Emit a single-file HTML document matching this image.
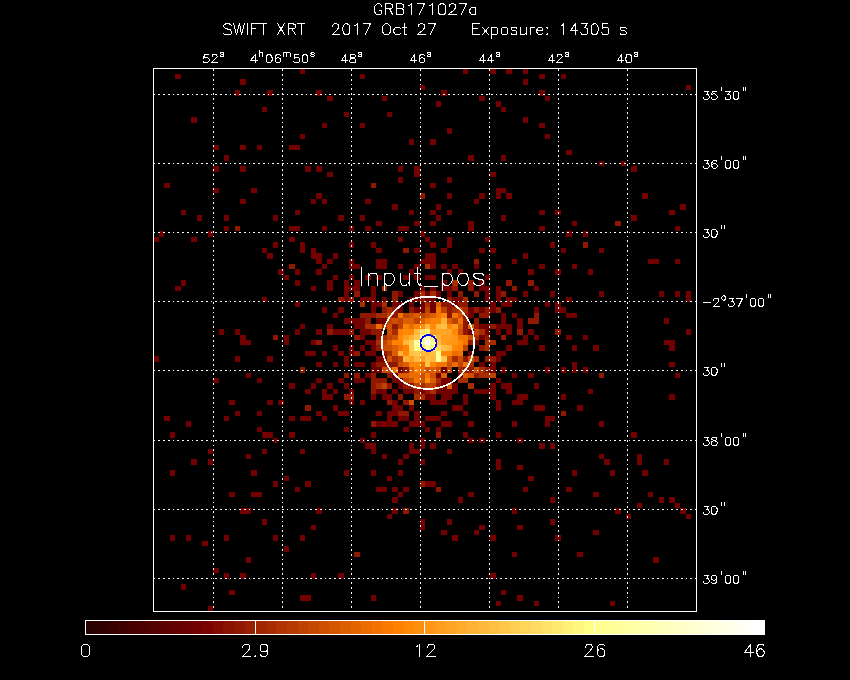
<!DOCTYPE html>
<html lang="en">
<head>
<meta charset="utf-8">
<title>GRB171027a SWIFT XRT</title>
<style>
html,body{margin:0;padding:0;background:#000;}
body{width:850px;height:680px;overflow:hidden;position:relative;font-family:"Liberation Sans",sans-serif;}
</style>
</head>
<body>
<svg width="850" height="680" viewBox="0 0 850 680" style="display:block;position:absolute;left:0;top:0">
<rect x="0" y="0" width="850" height="680" fill="#000"/>
<g shape-rendering="crispEdges">
<path fill="#730000" d="M300 69H305V74H300ZM463 69H468V74H463ZM490 69H496V74H490ZM506 69H512V74H506ZM523 69H528V74H523ZM175 74H181V79H175ZM360 74H365V79H360ZM539 74H545V79H539ZM561 74H566V79H561ZM240 79H246V85H240ZM523 79H528V85H523ZM420 85H425V90H420ZM686 85H691V90H686ZM235 90H240V96H235ZM267 90H273V96H267ZM316 90H322V96H316ZM441 90H447V96H441ZM539 90H545V96H539ZM327 96H333V101H327ZM382 96H387V101H382ZM479 96H485V101H479ZM545 96H550V101H545ZM436 101H441V107H436ZM496 101H501V107H496ZM262 107H267V112H262ZM501 107H506V112H501ZM344 112H349V117H344ZM387 112H392V117H387ZM191 117H197V123H191ZM523 117H528V123H523ZM322 123H327V128H322ZM360 123H365V128H360ZM539 123H545V128H539ZM447 128H452V134H447ZM300 134H305V139H300ZM545 134H550V139H545ZM409 139H414V145H409ZM430 139H436V145H430ZM213 145H219V150H213ZM240 145H246V150H240ZM257 145H262V150H257ZM289 145H300V150H289ZM566 150H572V155H566ZM224 155H229V161H224ZM468 155H474V161H468ZM501 155H506V161H501ZM599 161H604V166H599ZM621 161H626V166H621ZM213 166H219V172H213ZM240 166H246V172H240ZM305 166H311V172H305ZM316 166H322V172H316ZM398 166H403V172H398ZM414 166H420V172H414ZM631 166H637V172H631ZM327 172H333V177H327ZM414 172H420V177H414ZM490 172H496V177H490ZM398 177H403V183H398ZM447 177H452V183H447ZM164 183H170V188H164ZM430 183H436V188H430ZM213 188H219V193H213ZM251 188H257V193H251ZM496 188H506V193H496ZM316 193H322V199H316ZM447 193H452V199H447ZM479 193H485V199H479ZM496 193H501V199H496ZM506 193H512V199H506ZM642 193H648V199H642ZM240 199H246V204H240ZM311 199H316V204H311ZM322 199H327V204H322ZM365 199H371V204H365ZM474 199H479V204H474ZM392 204H398V210H392ZM436 204H441V210H436ZM680 204H686V210H680ZM181 210H186V215H181ZM295 210H300V215H295ZM409 210H414V215H409ZM430 210H436V215H430ZM447 210H452V215H447ZM539 210H545V215H539ZM555 210H561V215H555ZM669 210H675V215H669ZM197 215H202V221H197ZM224 215H229V221H224ZM273 215H278V221H273ZM338 215H344V221H338ZM360 215H365V221H360ZM436 215H441V221H436ZM501 215H506V221H501ZM631 215H637V221H631ZM376 221H382V226H376ZM414 221H420V226H414ZM430 221H436V226H430ZM468 221H474V226H468ZM572 221H577V226H572ZM224 226H229V231H224ZM289 226H300V231H289ZM322 226H327V231H322ZM349 226H354V231H349ZM365 226H371V231H365ZM398 226H409V231H398ZM468 226H474V231H468ZM539 226H545V231H539ZM675 226H680V231H675ZM159 231H164V237H159ZM208 231H213V237H208ZM420 231H425V237H420ZM566 231H572V237H566ZM583 231H588V237H583ZM153 237H159V242H153ZM191 237H197V242H191ZM289 237H295V242H289ZM398 237H403V242H398ZM425 237H430V242H425ZM447 237H452V242H447ZM485 237H490V242H485ZM273 242H278V248H273ZM300 242H305V248H300ZM349 242H354V248H349ZM371 242H376V248H371ZM430 242H436V248H430ZM447 242H452V248H447ZM550 242H555V248H550ZM262 248H267V253H262ZM300 248H305V253H300ZM311 248H316V253H311ZM376 248H382V253H376ZM414 248H420V253H414ZM441 248H447V253H441ZM479 248H485V253H479ZM490 248H496V253H490ZM561 248H566V253H561ZM599 248H604V253H599ZM267 253H273V259H267ZM311 253H322V259H311ZM333 253H338V259H333ZM425 253H436V259H425ZM523 253H528V259H523ZM316 259H322V264H316ZM327 259H333V264H327ZM349 259H354V264H349ZM376 259H387V264H376ZM420 259H436V264H420ZM512 259H517V264H512ZM648 259H659V264H648ZM675 259H680V264H675ZM322 264H327V269H322ZM349 264H360V269H349ZM376 264H387V269H376ZM398 264H403V269H398ZM414 264H420V269H414ZM430 264H436V269H430ZM441 264H447V269H441ZM452 264H458V269H452ZM474 264H479V269H474ZM496 264H501V269H496ZM539 264H545V269H539ZM572 264H577V269H572ZM278 269H284V275H278ZM295 269H300V275H295ZM316 269H322V275H316ZM409 269H414V275H409ZM447 269H452V275H447ZM458 269H463V275H458ZM528 269H534V275H528ZM555 269H561V275H555ZM588 269H593V275H588ZM284 275H289V280H284ZM333 275H338V280H333ZM349 275H354V280H349ZM365 275H371V280H365ZM376 275H382V280H376ZM403 275H409V280H403ZM414 275H420V280H414ZM425 275H436V280H425ZM485 275H490V280H485ZM181 280H186V286H181ZM295 280H300V286H295ZM327 280H333V286H327ZM344 280H349V286H344ZM354 280H360V286H354ZM441 280H447V286H441ZM479 280H485V286H479ZM175 286H181V291H175ZM311 286H316V291H311ZM327 286H333V291H327ZM344 286H360V291H344ZM371 286H376V291H371ZM420 286H425V291H420ZM430 286H436V291H430ZM441 286H452V291H441ZM479 286H490V291H479ZM496 286H501V291H496ZM534 286H539V291H534ZM344 291H349V297H344ZM371 291H376V297H371ZM398 291H403V297H398ZM414 291H420V297H414ZM425 291H430V297H425ZM436 291H441V297H436ZM447 291H452V297H447ZM485 291H490V297H485ZM496 291H501V297H496ZM523 291H528V297H523ZM550 291H555V297H550ZM599 291H604V297H599ZM659 291H664V297H659ZM675 291H680V297H675ZM686 291H691V297H686ZM262 297H267V302H262ZM344 297H349V302H344ZM360 297H376V302H360ZM382 297H387V302H382ZM409 297H420V302H409ZM425 297H436V302H425ZM452 297H463V302H452ZM485 297H490V302H485ZM496 297H501V302H496ZM506 297H517V302H506ZM566 297H572V302H566ZM686 297H691V302H686ZM295 302H300V307H295ZM371 302H382V307H371ZM392 302H403V307H392ZM409 302H414V307H409ZM420 302H425V307H420ZM430 302H436V307H430ZM452 302H458V307H452ZM490 302H496V307H490ZM501 302H512V307H501ZM545 302H550V307H545ZM555 302H561V307H555ZM322 307H327V313H322ZM338 307H344V313H338ZM371 307H376V313H371ZM398 307H403V313H398ZM414 307H425V313H414ZM430 307H436V313H430ZM468 307H474V313H468ZM479 307H485V313H479ZM490 307H496V313H490ZM534 307H539V313H534ZM555 307H566V313H555ZM333 313H338V318H333ZM468 313H474V318H468ZM501 313H506V318H501ZM512 313H517V318H512ZM566 313H577V318H566ZM344 318H365V324H344ZM376 318H387V324H376ZM501 318H506V324H501ZM517 318H523V324H517ZM664 318H669V324H664ZM300 324H305V329H300ZM327 324H333V329H327ZM354 324H365V329H354ZM479 324H490V329H479ZM496 324H512V329H496ZM517 324H523V329H517ZM219 329H224V335H219ZM235 329H240V335H235ZM295 329H300V335H295ZM316 329H322V335H316ZM333 329H349V335H333ZM360 329H371V335H360ZM468 329H474V335H468ZM485 329H490V335H485ZM496 329H501V335H496ZM506 329H512V335H506ZM528 329H534V335H528ZM686 329H691V335H686ZM240 335H246V340H240ZM284 335H289V340H284ZM360 335H365V340H360ZM479 335H485V340H479ZM523 335H528V340H523ZM534 335H539V340H534ZM566 335H572V340H566ZM583 335H588V340H583ZM240 340H251V345H240ZM284 340H289V345H284ZM311 340H316V345H311ZM365 340H376V345H365ZM474 340H479V345H474ZM517 340H528V345H517ZM664 340H675V345H664ZM333 345H338V351H333ZM349 345H354V351H349ZM360 345H365V351H360ZM371 345H376V351H371ZM506 345H512V351H506ZM539 345H545V351H539ZM572 345H577V351H572ZM593 345H599V351H593ZM669 345H675V351H669ZM305 351H316V356H305ZM322 351H327V356H322ZM338 351H344V356H338ZM349 351H354V356H349ZM365 351H376V356H365ZM468 351H474V356H468ZM496 351H506V356H496ZM153 356H159V362H153ZM235 356H240V362H235ZM267 356H273V362H267ZM344 356H349V362H344ZM376 356H387V362H376ZM496 356H501V362H496ZM316 362H322V367H316ZM333 362H338V367H333ZM344 362H349V367H344ZM354 362H365V367H354ZM371 362H376V367H371ZM479 362H485V367H479ZM490 362H496V367H490ZM572 362H577V367H572ZM669 362H675V367H669ZM371 367H382V373H371ZM398 367H403V373H398ZM441 367H447V373H441ZM490 367H496V373H490ZM501 367H506V373H501ZM545 367H550V373H545ZM561 367H566V373H561ZM572 367H577V373H572ZM583 367H588V373H583ZM246 373H251V378H246ZM365 373H371V378H365ZM392 373H398V378H392ZM436 373H441V378H436ZM458 373H463V378H458ZM512 373H517V378H512ZM528 373H534V378H528ZM675 373H680V378H675ZM213 378H219V383H213ZM257 378H262V383H257ZM316 378H322V383H316ZM338 378H344V383H338ZM354 378H365V383H354ZM392 378H403V383H392ZM441 378H452V383H441ZM496 378H501V383H496ZM289 383H295V389H289ZM311 383H316V389H311ZM327 383H333V389H327ZM344 383H349V389H344ZM398 383H403V389H398ZM441 383H447V389H441ZM452 383H458V389H452ZM490 383H496V389H490ZM501 383H512V389H501ZM534 383H539V389H534ZM305 389H311V394H305ZM322 389H327V394H322ZM333 389H338V394H333ZM349 389H354V394H349ZM376 389H387V394H376ZM392 389H398V394H392ZM403 389H414V394H403ZM420 389H425V394H420ZM436 389H458V394H436ZM474 389H496V394H474ZM506 389H512V394H506ZM588 389H593V394H588ZM322 394H333V400H322ZM371 394H376V400H371ZM382 394H392V400H382ZM425 394H436V400H425ZM441 394H452V400H441ZM463 394H468V400H463ZM490 394H496V400H490ZM517 394H528V400H517ZM561 394H566V400H561ZM669 394H675V400H669ZM229 400H235V405H229ZM267 400H273V405H267ZM278 400H284V405H278ZM349 400H354V405H349ZM360 400H365V405H360ZM392 400H398V405H392ZM430 400H447V405H430ZM463 400H468V405H463ZM496 400H501V405H496ZM512 400H523V405H512ZM333 405H338V411H333ZM392 405H403V411H392ZM409 405H414V411H409ZM452 405H463V411H452ZM496 405H501V411H496ZM534 405H545V411H534ZM577 405H583V411H577ZM235 411H240V416H235ZM257 411H262V416H257ZM316 411H322V416H316ZM338 411H349V416H338ZM376 411H382V416H376ZM387 411H398V416H387ZM414 411H420V416H414ZM441 411H447V416H441ZM463 411H468V416H463ZM164 416H170V421H164ZM224 416H229V421H224ZM289 416H295V421H289ZM300 416H311V421H300ZM322 416H327V421H322ZM387 416H392V421H387ZM398 416H409V421H398ZM414 416H420V421H414ZM425 416H441V421H425ZM545 416H555V421H545ZM186 421H191V427H186ZM376 421H398V427H376ZM409 421H425V427H409ZM441 421H452V427H441ZM468 421H474V427H468ZM512 421H517V427H512ZM545 421H550V427H545ZM599 421H604V427H599ZM257 427H262V432H257ZM344 427H349V432H344ZM403 427H409V432H403ZM425 427H430V432H425ZM436 427H441V432H436ZM170 432H175V438H170ZM262 432H273V438H262ZM289 432H295V438H289ZM371 432H376V438H371ZM463 432H468V438H463ZM496 432H501V438H496ZM631 432H637V438H631ZM273 438H278V443H273ZM360 438H365V443H360ZM420 438H425V443H420ZM468 438H474V443H468ZM479 438H485V443H479ZM517 438H523V443H517ZM365 443H376V449H365ZM409 443H414V449H409ZM420 443H425V449H420ZM430 443H436V449H430ZM539 443H545V449H539ZM550 443H555V449H550ZM208 449H213V454H208ZM262 449H267V454H262ZM300 449H305V454H300ZM371 449H376V454H371ZM409 449H420V454H409ZM447 449H452V454H447ZM246 454H251V459H246ZM382 454H387V459H382ZM403 454H409V459H403ZM599 454H604V459H599ZM637 454H642V459H637ZM191 459H197V465H191ZM208 459H213V465H208ZM398 459H403V465H398ZM420 459H425V465H420ZM496 459H501V465H496ZM604 459H610V465H604ZM637 459H642V465H637ZM664 459H669V465H664ZM496 465H501V470H496ZM517 465H523V470H517ZM170 470H175V476H170ZM251 470H257V476H251ZM344 470H349V476H344ZM371 470H376V476H371ZM398 470H403V476H398ZM572 470H577V476H572ZM610 470H615V476H610ZM642 470H648V476H642ZM284 476H289V481H284ZM387 476H392V481H387ZM528 476H534V481H528ZM273 481H278V487H273ZM305 481H311V487H305ZM425 481H436V487H425ZM295 487H300V492H295ZM376 487H387V492H376ZM392 487H398V492H392ZM403 487H409V492H403ZM523 487H528V492H523ZM566 487H572V492H566ZM229 492H235V497H229ZM251 492H262V497H251ZM398 492H403V497H398ZM468 492H474V497H468ZM593 492H599V497H593ZM648 492H653V497H648ZM392 497H398V503H392ZM458 497H463V503H458ZM550 497H555V503H550ZM659 497H664V503H659ZM669 497H675V503H669ZM637 503H642V508H637ZM675 503H680V508H675ZM240 508H251V514H240ZM316 508H322V514H316ZM392 508H398V514H392ZM512 508H517V514H512ZM615 508H621V514H615ZM680 508H686V514H680ZM387 514H392V519H387ZM626 514H631V519H626ZM686 514H691V519H686ZM262 519H267V525H262ZM420 519H425V525H420ZM447 519H452V525H447ZM550 519H555V525H550ZM311 525H316V530H311ZM420 525H425V530H420ZM479 525H485V530H479ZM517 525H523V530H517ZM441 530H447V535H441ZM474 530H479V535H474ZM593 530H599V535H593ZM170 535H175V541H170ZM186 535H191V541H186ZM224 535H229V541H224ZM273 535H278V541H273ZM300 535H305V541H300ZM452 535H458V541H452ZM490 535H496V541H490ZM555 535H561V541H555ZM202 541H208V546H202ZM284 546H289V552H284ZM512 552H517V557H512ZM577 552H583V557H577ZM246 557H251V563H246ZM653 557H659V563H653ZM213 568H219V573H213ZM224 573H229V579H224ZM240 573H246V579H240ZM311 573H316V579H311ZM338 573H344V579H338ZM490 573H496V579H490ZM181 584H186V590H181ZM229 590H235V595H229ZM501 590H506V595H501ZM300 595H311V601H300ZM371 595H376V601H371ZM517 595H523V601H517ZM496 601H501V606H496ZM534 601H539V606H534ZM610 601H615V606H610ZM208 606H213V612H208Z"/>
<path fill="#911800" d="M371 183H376V188H371ZM420 193H425V199H420ZM615 221H621V226H615ZM235 226H240V231H235ZM583 242H588V248H583ZM403 248H409V253H403ZM474 259H479V264H474ZM289 264H295V269H289ZM468 280H474V286H468ZM506 280H512V286H506ZM528 280H534V286H528ZM452 286H458V291H452ZM468 286H474V291H468ZM512 286H517V291H512ZM354 291H360V297H354ZM392 291H398V297H392ZM458 291H463V297H458ZM474 291H479V297H474ZM501 291H506V297H501ZM338 297H344V302H338ZM349 297H354V302H349ZM392 297H398V302H392ZM420 297H425V302H420ZM447 297H452V302H447ZM441 302H452V307H441ZM458 302H468V307H458ZM382 307H387V313H382ZM392 307H398V313H392ZM409 307H414V313H409ZM447 307H452V313H447ZM474 307H479V313H474ZM485 307H490V313H485ZM496 307H501V313H496ZM360 313H376V318H360ZM392 313H398V318H392ZM447 313H452V318H447ZM463 313H468V318H463ZM479 313H490V318H479ZM534 313H539V318H534ZM365 318H371V324H365ZM463 318H468V324H463ZM474 318H479V324H474ZM528 318H539V324H528ZM392 324H398V329H392ZM463 324H468V329H463ZM474 324H479V329H474ZM490 324H496V329H490ZM327 329H333V335H327ZM349 329H354V335H349ZM371 329H382V335H371ZM463 329H468V335H463ZM517 329H523V335H517ZM555 329H561V335H555ZM273 335H278V340H273ZM354 335H360V340H354ZM376 335H382V340H376ZM485 335H490V340H485ZM501 335H506V340H501ZM316 340H322V345H316ZM468 340H474V345H468ZM376 345H382V351H376ZM479 345H485V351H479ZM354 351H360V356H354ZM382 351H387V356H382ZM463 356H468V362H463ZM485 356H496V362H485ZM376 362H398V367H376ZM300 367H305V373H300ZM403 367H409V373H403ZM463 367H474V373H463ZM485 367H490V373H485ZM344 373H349V378H344ZM354 373H360V378H354ZM371 373H376V378H371ZM387 373H392V378H387ZM474 373H479V378H474ZM599 373H604V378H599ZM371 378H387V383H371ZM371 383H376V389H371ZM387 383H392V389H387ZM403 383H414V389H403ZM436 383H441V389H436ZM371 389H376V394H371ZM414 389H420V394H414ZM425 389H430V394H425ZM344 394H354V400H344ZM398 394H403V400H398ZM387 400H392V405H387ZM403 400H409V405H403ZM305 405H311V411H305ZM398 411H409V416H398ZM561 411H566V416H561ZM371 421H376V427H371ZM436 432H441V438H436ZM420 481H425V487H420ZM436 487H441V492H436ZM403 508H409V514H403ZM354 552H360V557H354Z"/>
<path fill="#a72d00" d="M425 264H430V269H425ZM452 280H458V286H452ZM382 286H387V291H382ZM420 291H425V297H420ZM430 291H436V297H430ZM463 297H468V302H463ZM360 302H365V307H360ZM382 302H387V307H382ZM425 302H430V307H425ZM387 307H392V313H387ZM452 307H458V313H452ZM463 307H468V313H463ZM376 313H387V318H376ZM365 324H376V329H365ZM382 324H387V329H382ZM392 329H398V335H392ZM479 329H485V335H479ZM382 335H387V340H382ZM474 335H479V340H474ZM376 340H382V345H376ZM485 340H496V345H485ZM485 345H490V351H485ZM387 351H392V356H387ZM392 356H398V362H392ZM452 356H458V362H452ZM474 356H479V362H474ZM468 362H474V367H468ZM458 367H463V373H458ZM479 367H485V373H479ZM479 373H490V378H479ZM436 378H441V383H436ZM458 378H468V383H458ZM376 383H382V389H376ZM420 383H425V389H420ZM468 383H474V389H468ZM430 389H436V394H430ZM414 394H425V400H414Z"/>
<path fill="#dc5e00" d="M436 302H441V307H436ZM414 313H420V318H414ZM430 313H436V318H430ZM403 318H414V324H403ZM420 318H425V324H420ZM447 318H452V324H447ZM458 324H463V329H458ZM468 324H474V329H468ZM387 340H392V345H387ZM392 345H398V351H392ZM392 351H398V356H392ZM447 356H452V362H447ZM403 362H409V367H403ZM409 367H414V373H409ZM430 367H436V373H430ZM398 373H409V378H398ZM441 373H447V378H441ZM463 373H468V378H463ZM430 378H436V383H430ZM447 383H452V389H447Z"/>
<path fill="#be4200" d="M425 307H430V313H425ZM441 307H447V313H441ZM458 307H463V313H458ZM387 313H392V318H387ZM403 313H409V318H403ZM420 313H425V318H420ZM387 318H392V324H387ZM398 318H403V324H398ZM414 318H420V324H414ZM452 318H458V324H452ZM398 324H403V329H398ZM474 329H479V335H474ZM387 335H392V340H387ZM382 340H387V345H382ZM463 345H468V351H463ZM398 356H403V362H398ZM458 362H463V367H458ZM387 367H392V373H387ZM447 367H452V373H447ZM490 373H496V378H490ZM403 378H409V383H403ZM382 383H387V389H382ZM414 383H420V389H414ZM425 383H436V389H425Z"/>
<path fill="#f27300" d="M436 307H441V313H436ZM398 313H403V318H398ZM436 313H441V318H436ZM452 313H458V318H452ZM425 318H430V324H425ZM458 318H463V324H458ZM458 335H468V340H458ZM463 340H468V345H463ZM398 345H403V351H398ZM458 351H463V356H458ZM436 362H447V367H436ZM463 362H468V367H463ZM392 367H398V373H392ZM425 373H430V378H425ZM414 378H420V383H414Z"/>
<path fill="#cd5000" d="M409 313H414V318H409ZM425 313H430V318H425ZM458 313H463V318H458ZM392 318H398V324H392ZM387 324H392V329H387ZM387 329H392V335H387ZM458 329H463V335H458ZM392 335H398V340H392ZM468 335H474V340H468ZM382 345H392V351H382ZM387 356H392V362H387ZM458 356H463V362H458ZM468 356H474V362H468ZM398 362H403V367H398ZM447 362H452V367H447ZM382 367H387V373H382ZM425 367H430V373H425ZM436 367H441V373H436ZM474 367H479V373H474ZM420 373H425V378H420ZM430 373H436V378H430ZM468 373H474V378H468ZM409 378H414V383H409ZM420 378H425V383H420ZM409 400H414V405H409Z"/>
<path fill="#ff8807" d="M441 313H447V318H441ZM420 324H425V329H420ZM430 324H436V329H430ZM447 324H452V329H447ZM403 329H414V335H403ZM452 329H458V335H452ZM398 335H403V340H398ZM458 340H463V345H458ZM452 345H458V351H452ZM403 351H409V356H403ZM441 351H452V356H441ZM409 362H420V367H409ZM430 362H436V367H430ZM425 378H430V383H425Z"/>
<path fill="#ff8100" d="M430 318H441V324H430ZM403 324H409V329H403ZM414 324H420V329H414ZM398 329H403V335H398ZM392 340H403V345H392ZM403 345H409V351H403ZM458 345H463V351H458ZM414 367H420V373H414Z"/>
<path fill="#ffb234" d="M441 318H447V324H441ZM409 335H414V340H409ZM436 335H441V340H436ZM447 345H452V351H447ZM398 351H403V356H398ZM425 351H430V356H425ZM403 356H409V362H403Z"/>
<path fill="#eb6c00" d="M376 324H382V329H376ZM409 324H414V329H409ZM452 351H458V356H452ZM420 362H425V367H420ZM452 362H458V367H452ZM420 367H425V373H420ZM409 373H420V378H409Z"/>
<path fill="#ffb93c" d="M425 324H430V329H425ZM436 324H441V329H436ZM414 329H420V335H414ZM403 340H409V345H403ZM436 340H441V345H436ZM420 351H425V356H420ZM414 356H420V362H414ZM430 356H436V362H430Z"/>
<path fill="#ffc043" d="M441 324H447V329H441ZM441 345H447V351H441ZM409 351H414V356H409ZM430 351H436V356H430ZM425 356H430V362H425ZM425 362H430V367H425Z"/>
<path fill="#ff9d1e" d="M452 324H458V329H452ZM430 329H436V335H430ZM403 335H409V340H403ZM441 335H452V340H441ZM441 340H447V345H441ZM409 356H414V362H409ZM420 356H425V362H420Z"/>
<path fill="#ffe369" d="M420 329H425V335H420ZM420 345H425V351H420Z"/>
<path fill="#fff178" d="M425 329H430V335H425ZM430 335H436V340H430ZM430 345H436V351H430Z"/>
<path fill="#ffa425" d="M436 329H452V335H436Z"/>
<path fill="#ffc74b" d="M414 335H420V340H414ZM414 351H420V356H414ZM441 356H447V362H441Z"/>
<path fill="#ffff8e" d="M420 335H425V340H420ZM420 340H425V345H420ZM436 351H441V356H436Z"/>
<path fill="#ffffca" d="M425 335H430V340H425Z"/>
<path fill="#ff9616" d="M452 335H458V340H452ZM447 340H458V345H447Z"/>
<path fill="#ffce52" d="M409 340H414V345H409ZM409 345H414V351H409Z"/>
<path fill="#ffffac" d="M414 340H420V345H414ZM425 345H430V351H425Z"/>
<path fill="#ffffff" d="M425 340H430V345H425Z"/>
<path fill="#ffff9d" d="M430 340H436V345H430ZM436 356H441V362H436Z"/>
<path fill="#ffff87" d="M414 345H420V351H414Z"/>
<path fill="#ffd55a" d="M436 345H441V351H436Z"/>
</g>
<g stroke="#fff" stroke-width="1" fill="none" shape-rendering="crispEdges">
<path d="M213.5 69V611" stroke-dasharray="2 3 2 3 2 3 1 3" stroke-dashoffset="0"/>
<path d="M282.5 69V611" stroke-dasharray="2 3 2 3 2 3 1 3" stroke-dashoffset="0"/>
<path d="M351.5 69V611" stroke-dasharray="2 3 2 3 2 3 1 3" stroke-dashoffset="0"/>
<path d="M420.5 69V611" stroke-dasharray="2 3 2 3 2 3 1 3" stroke-dashoffset="0"/>
<path d="M489.5 69V611" stroke-dasharray="2 3 2 3 2 3 1 3" stroke-dashoffset="0"/>
<path d="M558.5 69V611" stroke-dasharray="2 3 2 3 2 3 1 3" stroke-dashoffset="0"/>
<path d="M627.5 69V611" stroke-dasharray="2 3 2 3 2 3 1 3" stroke-dashoffset="0"/>
<path d="M154 94.5H696" stroke-dasharray="2 3 2 3 2 3 1 3" stroke-dashoffset="-4"/>
<path d="M154 163.5H696" stroke-dasharray="2 3 2 3 2 3 1 3" stroke-dashoffset="-4"/>
<path d="M154 232.5H696" stroke-dasharray="2 3 2 3 2 3 1 3" stroke-dashoffset="-4"/>
<path d="M154 301.5H696" stroke-dasharray="2 3 2 3 2 3 1 3" stroke-dashoffset="-4"/>
<path d="M154 370.5H696" stroke-dasharray="2 3 2 3 2 3 1 3" stroke-dashoffset="-4"/>
<path d="M154 440.5H696" stroke-dasharray="2 3 2 3 2 3 1 3" stroke-dashoffset="-4"/>
<path d="M154 509.5H696" stroke-dasharray="2 3 2 3 2 3 1 3" stroke-dashoffset="-4"/>
<path d="M154 578.5H696" stroke-dasharray="2 3 2 3 2 3 1 3" stroke-dashoffset="-4"/>
<rect x="153.5" y="68.5" width="543" height="543"/>
</g>
<g fill="none" shape-rendering="crispEdges">
<circle cx="428" cy="342.8" r="46.1" stroke="#fff" stroke-width="1.7"/>
<circle cx="428.5" cy="343" r="8.05" stroke="#0000ff" stroke-width="1.8"/>
</g>
<g shape-rendering="crispEdges">
<rect x="85" y="620" width="11" height="15" fill="#280000"/>
<rect x="96" y="620" width="11" height="15" fill="#2f0000"/>
<rect x="107" y="620" width="10" height="15" fill="#370000"/>
<rect x="117" y="620" width="11" height="15" fill="#3e0000"/>
<rect x="128" y="620" width="10" height="15" fill="#460000"/>
<rect x="138" y="620" width="11" height="15" fill="#4d0000"/>
<rect x="149" y="620" width="11" height="15" fill="#550000"/>
<rect x="160" y="620" width="10" height="15" fill="#5c0000"/>
<rect x="170" y="620" width="11" height="15" fill="#640000"/>
<rect x="181" y="620" width="11" height="15" fill="#6b0000"/>
<rect x="192" y="620" width="10" height="15" fill="#730000"/>
<rect x="202" y="620" width="11" height="15" fill="#7a0300"/>
<rect x="213" y="620" width="10" height="15" fill="#820a00"/>
<rect x="223" y="620" width="11" height="15" fill="#891100"/>
<rect x="234" y="620" width="11" height="15" fill="#911800"/>
<rect x="245" y="620" width="10" height="15" fill="#981f00"/>
<rect x="255" y="620" width="11" height="15" fill="#a02600"/>
<rect x="266" y="620" width="10" height="15" fill="#a72d00"/>
<rect x="276" y="620" width="11" height="15" fill="#af3400"/>
<rect x="287" y="620" width="11" height="15" fill="#b63b00"/>
<rect x="298" y="620" width="10" height="15" fill="#be4200"/>
<rect x="308" y="620" width="11" height="15" fill="#c54900"/>
<rect x="319" y="620" width="10" height="15" fill="#cd5000"/>
<rect x="329" y="620" width="11" height="15" fill="#d45700"/>
<rect x="340" y="620" width="11" height="15" fill="#dc5e00"/>
<rect x="351" y="620" width="10" height="15" fill="#e36500"/>
<rect x="361" y="620" width="11" height="15" fill="#eb6c00"/>
<rect x="372" y="620" width="10" height="15" fill="#f27300"/>
<rect x="382" y="620" width="11" height="15" fill="#fa7a00"/>
<rect x="393" y="620" width="11" height="15" fill="#ff8100"/>
<rect x="404" y="620" width="10" height="15" fill="#ff8807"/>
<rect x="414" y="620" width="11" height="15" fill="#ff8f0f"/>
<rect x="425" y="620" width="11" height="15" fill="#ff9616"/>
<rect x="436" y="620" width="10" height="15" fill="#ff9d1e"/>
<rect x="446" y="620" width="11" height="15" fill="#ffa425"/>
<rect x="457" y="620" width="10" height="15" fill="#ffab2d"/>
<rect x="467" y="620" width="11" height="15" fill="#ffb234"/>
<rect x="478" y="620" width="11" height="15" fill="#ffb93c"/>
<rect x="489" y="620" width="10" height="15" fill="#ffc043"/>
<rect x="499" y="620" width="11" height="15" fill="#ffc74b"/>
<rect x="510" y="620" width="10" height="15" fill="#ffce52"/>
<rect x="520" y="620" width="11" height="15" fill="#ffd55a"/>
<rect x="531" y="620" width="11" height="15" fill="#ffdc61"/>
<rect x="542" y="620" width="10" height="15" fill="#ffe369"/>
<rect x="552" y="620" width="11" height="15" fill="#ffea70"/>
<rect x="563" y="620" width="10" height="15" fill="#fff178"/>
<rect x="573" y="620" width="11" height="15" fill="#fff87f"/>
<rect x="584" y="620" width="11" height="15" fill="#ffff87"/>
<rect x="595" y="620" width="10" height="15" fill="#ffff8e"/>
<rect x="605" y="620" width="11" height="15" fill="#ffff96"/>
<rect x="616" y="620" width="11" height="15" fill="#ffff9d"/>
<rect x="627" y="620" width="10" height="15" fill="#ffffa5"/>
<rect x="637" y="620" width="11" height="15" fill="#ffffac"/>
<rect x="648" y="620" width="10" height="15" fill="#ffffb4"/>
<rect x="658" y="620" width="11" height="15" fill="#ffffbb"/>
<rect x="669" y="620" width="11" height="15" fill="#ffffc3"/>
<rect x="680" y="620" width="10" height="15" fill="#ffffca"/>
<rect x="690" y="620" width="11" height="15" fill="#ffffd2"/>
<rect x="701" y="620" width="10" height="15" fill="#ffffd9"/>
<rect x="711" y="620" width="11" height="15" fill="#ffffe1"/>
<rect x="722" y="620" width="11" height="15" fill="#ffffe8"/>
<rect x="733" y="620" width="10" height="15" fill="#fffff0"/>
<rect x="743" y="620" width="11" height="15" fill="#fffff7"/>
<rect x="754" y="620" width="11" height="15" fill="#ffffff"/>
<path d="M85.5 620.5H765 M85.5 634.5H765 M85.5 620V635 M255.5 620V635 M424.5 620V635 M594.5 620V635" stroke="#fff" stroke-width="1" fill="none"/>
</g>
<g stroke="#fff" stroke-width="1" fill="none" shape-rendering="crispEdges" stroke-linecap="square">
<path d="M381.5 6.5 L381.5 5.5 L380.5 4.5 L379.5 3.5 L377.5 3.5 L376.5 4.5 L375.5 5.5 L374.5 6.5 L374.5 7.5 L374.5 10.5 L374.5 11.5 L375.5 13.5 L376.5 14.5 L377.5 14.5 L379.5 14.5 L380.5 14.5 L381.5 13.5 L381.5 11.5 L381.5 10.5 M379.5 10.5 L381.5 10.5 M385.5 3.5 L385.5 14.5 M385.5 3.5 L390.5 3.5 L391.5 4.5 L392.5 4.5 L392.5 5.5 L392.5 6.5 L392.5 7.5 L391.5 8.5 L390.5 8.5 L385.5 8.5 M389.5 8.5 L392.5 14.5 M396.5 3.5 L396.5 14.5 M396.5 3.5 L401.5 3.5 L402.5 4.5 L403.5 4.5 L403.5 5.5 L403.5 6.5 L403.5 7.5 L402.5 8.5 L401.5 8.5 M396.5 8.5 L401.5 8.5 L402.5 9.5 L403.5 9.5 L403.5 10.5 L403.5 12.5 L403.5 13.5 L402.5 14.5 L401.5 14.5 L396.5 14.5 M408.5 5.5 L409.5 5.5 L411.5 3.5 L411.5 14.5 M424.5 3.5 L419.5 14.5 M417.5 3.5 L424.5 3.5 M429.5 5.5 L430.5 5.5 L432.5 3.5 L432.5 14.5 M441.5 3.5 L439.5 4.5 L438.5 5.5 L438.5 8.5 L438.5 9.5 L438.5 12.5 L439.5 14.5 L441.5 14.5 L442.5 14.5 L444.5 14.5 L445.5 12.5 L445.5 9.5 L445.5 8.5 L445.5 5.5 L444.5 4.5 L442.5 3.5 L441.5 3.5 M449.5 6.5 L449.5 5.5 L449.5 4.5 L450.5 4.5 L451.5 3.5 L453.5 3.5 L454.5 4.5 L455.5 4.5 L455.5 5.5 L455.5 6.5 L455.5 7.5 L454.5 9.5 L448.5 14.5 L456.5 14.5 M466.5 3.5 L461.5 14.5 M459.5 3.5 L466.5 3.5 M475.5 7.5 L475.5 14.5 M475.5 8.5 L474.5 7.5 L473.5 7.5 L472.5 7.5 L471.5 7.5 L470.5 8.5 L469.5 10.5 L469.5 11.5 L470.5 13.5 L471.5 14.5 L472.5 14.5 L473.5 14.5 L474.5 14.5 L475.5 13.5"><title>GRB171027a</title></path>
<path d="M231.5 25.5 L230.5 24.5 L228.5 23.5 L226.5 23.5 L224.5 24.5 L223.5 25.5 L223.5 26.5 L224.5 27.5 L225.5 28.5 L229.5 29.5 L230.5 29.5 L230.5 30.5 L231.5 31.5 L231.5 33.5 L230.5 34.5 L228.5 34.5 L226.5 34.5 L224.5 34.5 L223.5 33.5 M233.5 23.5 L236.5 34.5 M239.5 23.5 L236.5 34.5 M239.5 23.5 L241.5 34.5 M244.5 23.5 L241.5 34.5 M247.5 23.5 L247.5 34.5 M251.5 23.5 L251.5 34.5 M251.5 23.5 L258.5 23.5 M251.5 28.5 L255.5 28.5 M263.5 23.5 L263.5 34.5 M259.5 23.5 L266.5 23.5 M277.5 23.5 L284.5 34.5 M277.5 34.5 L284.5 23.5 M288.5 23.5 L288.5 34.5 M288.5 23.5 L292.5 23.5 L294.5 24.5 L295.5 24.5 L295.5 25.5 L295.5 26.5 L295.5 27.5 L294.5 28.5 L292.5 28.5 L288.5 28.5 M291.5 28.5 L295.5 34.5 M301.5 23.5 L301.5 34.5 M297.5 23.5 L304.5 23.5 M332.5 26.5 L332.5 25.5 L333.5 24.5 L334.5 23.5 L336.5 23.5 L337.5 24.5 L338.5 24.5 L338.5 25.5 L338.5 26.5 L338.5 27.5 L337.5 29.5 L332.5 34.5 L339.5 34.5 M345.5 23.5 L344.5 24.5 L343.5 25.5 L342.5 28.5 L342.5 29.5 L343.5 32.5 L344.5 34.5 L345.5 34.5 L346.5 34.5 L348.5 34.5 L349.5 32.5 L349.5 29.5 L349.5 28.5 L349.5 25.5 L348.5 24.5 L346.5 23.5 L345.5 23.5 M354.5 25.5 L355.5 25.5 L357.5 23.5 L357.5 34.5 M370.5 23.5 L365.5 34.5 M363.5 23.5 L370.5 23.5 M385.5 23.5 L384.5 24.5 L383.5 25.5 L382.5 26.5 L382.5 27.5 L382.5 30.5 L382.5 31.5 L383.5 33.5 L384.5 34.5 L385.5 34.5 L387.5 34.5 L388.5 34.5 L389.5 33.5 L390.5 31.5 L390.5 30.5 L390.5 27.5 L390.5 26.5 L389.5 25.5 L388.5 24.5 L387.5 23.5 L385.5 23.5 M400.5 28.5 L399.5 27.5 L398.5 27.5 L396.5 27.5 L395.5 27.5 L394.5 28.5 L393.5 30.5 L393.5 31.5 L394.5 33.5 L395.5 34.5 L396.5 34.5 L398.5 34.5 L399.5 34.5 L400.5 33.5 M404.5 23.5 L404.5 32.5 L404.5 34.5 L405.5 34.5 L406.5 34.5 M402.5 27.5 L406.5 27.5 M418.5 26.5 L418.5 25.5 L418.5 24.5 L419.5 24.5 L420.5 23.5 L422.5 23.5 L423.5 24.5 L424.5 24.5 L424.5 25.5 L424.5 26.5 L424.5 27.5 L423.5 29.5 L417.5 34.5 L425.5 34.5 M435.5 23.5 L430.5 34.5 M428.5 23.5 L435.5 23.5 M472.5 23.5 L472.5 34.5 M472.5 23.5 L479.5 23.5 M472.5 28.5 L477.5 28.5 M472.5 34.5 L479.5 34.5 M482.5 27.5 L488.5 34.5 M488.5 27.5 L482.5 34.5 M491.5 27.5 L491.5 38.5 M491.5 28.5 L492.5 27.5 L493.5 27.5 L495.5 27.5 L496.5 27.5 L497.5 28.5 L497.5 30.5 L497.5 31.5 L497.5 33.5 L496.5 34.5 L495.5 34.5 L493.5 34.5 L492.5 34.5 L491.5 33.5 M503.5 27.5 L502.5 27.5 L501.5 28.5 L501.5 30.5 L501.5 31.5 L501.5 33.5 L502.5 34.5 L503.5 34.5 L505.5 34.5 L506.5 34.5 L507.5 33.5 L507.5 31.5 L507.5 30.5 L507.5 28.5 L506.5 27.5 L505.5 27.5 L503.5 27.5 M516.5 28.5 L516.5 27.5 L514.5 27.5 L513.5 27.5 L511.5 27.5 L511.5 28.5 L511.5 29.5 L512.5 30.5 L515.5 30.5 L516.5 31.5 L516.5 32.5 L516.5 33.5 L516.5 34.5 L514.5 34.5 L513.5 34.5 L511.5 34.5 L511.5 33.5 M520.5 27.5 L520.5 32.5 L520.5 34.5 L522.5 34.5 L523.5 34.5 L524.5 34.5 L526.5 32.5 M526.5 27.5 L526.5 34.5 M530.5 27.5 L530.5 34.5 M530.5 30.5 L530.5 28.5 L531.5 27.5 L532.5 27.5 L534.5 27.5 M536.5 30.5 L542.5 30.5 L542.5 29.5 L542.5 28.5 L541.5 27.5 L540.5 27.5 L539.5 27.5 L538.5 27.5 L537.5 28.5 L536.5 30.5 L536.5 31.5 L537.5 33.5 L538.5 34.5 L539.5 34.5 L540.5 34.5 L541.5 34.5 L542.5 33.5 M547.5 27.5 L546.5 27.5 L547.5 28.5 L547.5 27.5 M547.5 33.5 L546.5 34.5 L547.5 34.5 L547.5 33.5 M561.5 25.5 L562.5 25.5 L563.5 23.5 L563.5 34.5 M575.5 23.5 L570.5 30.5 L577.5 30.5 M575.5 23.5 L575.5 34.5 M581.5 23.5 L587.5 23.5 L584.5 27.5 L585.5 27.5 L586.5 28.5 L587.5 28.5 L587.5 30.5 L587.5 31.5 L587.5 33.5 L586.5 34.5 L584.5 34.5 L583.5 34.5 L581.5 34.5 L581.5 33.5 L580.5 32.5 M594.5 23.5 L592.5 24.5 L591.5 25.5 L591.5 28.5 L591.5 29.5 L591.5 32.5 L592.5 34.5 L594.5 34.5 L595.5 34.5 L596.5 34.5 L597.5 32.5 L598.5 29.5 L598.5 28.5 L597.5 25.5 L596.5 24.5 L595.5 23.5 L594.5 23.5 M607.5 23.5 L602.5 23.5 L602.5 28.5 L602.5 27.5 L604.5 27.5 L605.5 27.5 L607.5 27.5 L608.5 28.5 L608.5 30.5 L608.5 31.5 L608.5 33.5 L607.5 34.5 L605.5 34.5 L604.5 34.5 L602.5 34.5 L602.5 33.5 L601.5 32.5 M626.5 28.5 L625.5 27.5 L624.5 27.5 L622.5 27.5 L620.5 27.5 L620.5 28.5 L620.5 29.5 L621.5 30.5 L624.5 30.5 L625.5 31.5 L626.5 32.5 L626.5 33.5 L625.5 34.5 L624.5 34.5 L622.5 34.5 L620.5 34.5 L620.5 33.5"><title>SWIFT XRT   2017 Oct 27    Exposure: 14305 s</title></path>
<path d="M208.5 54.5 L204.5 54.5 L203.5 58.5 L204.5 57.5 L205.5 57.5 L206.5 57.5 L207.5 57.5 L208.5 58.5 L209.5 59.5 L209.5 60.5 L208.5 61.5 L207.5 62.5 L206.5 62.5 L205.5 62.5 L204.5 62.5 L203.5 62.5 L203.5 61.5 M212.5 56.5 L212.5 55.5 L212.5 54.5 L213.5 54.5 L215.5 54.5 L216.5 54.5 L216.5 55.5 L217.5 56.5 L216.5 57.5 L215.5 58.5 L211.5 62.5 L217.5 62.5 M223.5 53.5 L223.5 52.5 L222.5 52.5 L221.5 52.5 L220.5 52.5 L220.5 53.5 L221.5 54.5 L222.5 54.5 L223.5 54.5 L223.5 55.5 L223.5 56.5 L222.5 56.5 L221.5 56.5 L220.5 56.5 L220.5 55.5"><title>52s</title></path>
<path d="M255.5 54.5 L250.5 60.5 L257.5 60.5 M255.5 54.5 L255.5 62.5 M259.5 50.5 L259.5 56.5 M259.5 53.5 L260.5 52.5 L261.5 52.5 L262.5 52.5 L262.5 53.5 L262.5 56.5 M268.5 54.5 L267.5 54.5 L266.5 56.5 L266.5 58.5 L266.5 59.5 L266.5 61.5 L267.5 62.5 L268.5 62.5 L269.5 62.5 L270.5 62.5 L271.5 61.5 L272.5 59.5 L272.5 58.5 L271.5 56.5 L270.5 54.5 L269.5 54.5 L268.5 54.5 M280.5 55.5 L279.5 54.5 L278.5 54.5 L277.5 54.5 L276.5 54.5 L275.5 56.5 L275.5 58.5 L275.5 60.5 L275.5 61.5 L276.5 62.5 L277.5 62.5 L278.5 62.5 L279.5 62.5 L280.5 61.5 L280.5 60.5 L280.5 58.5 L279.5 58.5 L278.5 57.5 L277.5 57.5 L276.5 58.5 L275.5 58.5 L275.5 60.5 M283.5 52.5 L283.5 56.5 M283.5 53.5 L284.5 52.5 L285.5 52.5 L286.5 52.5 L286.5 53.5 L286.5 56.5 M286.5 53.5 L287.5 52.5 L288.5 52.5 L289.5 52.5 L290.5 53.5 L290.5 56.5 M298.5 54.5 L294.5 54.5 L294.5 58.5 L294.5 57.5 L295.5 57.5 L297.5 57.5 L298.5 57.5 L299.5 58.5 L299.5 59.5 L299.5 60.5 L299.5 61.5 L298.5 62.5 L297.5 62.5 L295.5 62.5 L294.5 62.5 L293.5 61.5 M304.5 54.5 L303.5 54.5 L302.5 56.5 L302.5 58.5 L302.5 59.5 L302.5 61.5 L303.5 62.5 L304.5 62.5 L305.5 62.5 L306.5 62.5 L307.5 61.5 L307.5 59.5 L307.5 58.5 L307.5 56.5 L306.5 54.5 L305.5 54.5 L304.5 54.5 M314.5 53.5 L313.5 52.5 L312.5 52.5 L311.5 52.5 L310.5 53.5 L311.5 53.5 L311.5 54.5 L313.5 54.5 L314.5 55.5 L313.5 56.5 L312.5 56.5 L311.5 56.5 L310.5 55.5"><title>4h06m50s</title></path>
<path d="M345.5 54.5 L341.5 60.5 L347.5 60.5 M345.5 54.5 L345.5 62.5 M351.5 54.5 L350.5 54.5 L350.5 55.5 L350.5 56.5 L350.5 57.5 L351.5 57.5 L353.5 58.5 L354.5 58.5 L355.5 59.5 L355.5 60.5 L355.5 61.5 L355.5 62.5 L354.5 62.5 L353.5 62.5 L351.5 62.5 L350.5 62.5 L349.5 61.5 L349.5 60.5 L350.5 59.5 L350.5 58.5 L352.5 58.5 L353.5 57.5 L354.5 57.5 L355.5 56.5 L355.5 55.5 L354.5 54.5 L353.5 54.5 L351.5 54.5 M361.5 53.5 L361.5 52.5 L360.5 52.5 L359.5 52.5 L358.5 52.5 L358.5 53.5 L359.5 54.5 L360.5 54.5 L361.5 54.5 L361.5 55.5 L361.5 56.5 L360.5 56.5 L359.5 56.5 L358.5 56.5 L358.5 55.5"><title>48s</title></path>
<path d="M414.5 54.5 L410.5 60.5 L416.5 60.5 M414.5 54.5 L414.5 62.5 M424.5 55.5 L423.5 54.5 L422.5 54.5 L421.5 54.5 L420.5 54.5 L419.5 56.5 L419.5 58.5 L419.5 60.5 L419.5 61.5 L420.5 62.5 L421.5 62.5 L422.5 62.5 L423.5 62.5 L424.5 61.5 L424.5 60.5 L424.5 58.5 L423.5 58.5 L422.5 57.5 L421.5 57.5 L420.5 58.5 L419.5 58.5 L419.5 60.5 M430.5 53.5 L430.5 52.5 L429.5 52.5 L428.5 52.5 L427.5 52.5 L427.5 53.5 L428.5 54.5 L429.5 54.5 L430.5 54.5 L430.5 55.5 L430.5 56.5 L429.5 56.5 L428.5 56.5 L427.5 56.5 L427.5 55.5"><title>46s</title></path>
<path d="M483.5 54.5 L479.5 60.5 L485.5 60.5 M483.5 54.5 L483.5 62.5 M491.5 54.5 L487.5 60.5 L493.5 60.5 M491.5 54.5 L491.5 62.5 M499.5 53.5 L499.5 52.5 L498.5 52.5 L497.5 52.5 L496.5 52.5 L496.5 53.5 L497.5 54.5 L498.5 54.5 L499.5 54.5 L499.5 55.5 L499.5 56.5 L498.5 56.5 L497.5 56.5 L496.5 56.5 L496.5 55.5"><title>44s</title></path>
<path d="M552.5 54.5 L548.5 60.5 L554.5 60.5 M552.5 54.5 L552.5 62.5 M557.5 56.5 L557.5 55.5 L557.5 54.5 L558.5 54.5 L560.5 54.5 L561.5 54.5 L561.5 55.5 L562.5 56.5 L561.5 57.5 L560.5 58.5 L556.5 62.5 L562.5 62.5 M568.5 53.5 L568.5 52.5 L567.5 52.5 L566.5 52.5 L565.5 52.5 L565.5 53.5 L566.5 54.5 L567.5 54.5 L568.5 54.5 L568.5 55.5 L568.5 56.5 L567.5 56.5 L566.5 56.5 L565.5 56.5 L565.5 55.5"><title>42s</title></path>
<path d="M621.5 54.5 L617.5 60.5 L623.5 60.5 M621.5 54.5 L621.5 62.5 M628.5 54.5 L626.5 54.5 L626.5 56.5 L625.5 58.5 L625.5 59.5 L626.5 61.5 L626.5 62.5 L628.5 62.5 L629.5 62.5 L630.5 62.5 L631.5 61.5 L631.5 59.5 L631.5 58.5 L631.5 56.5 L630.5 54.5 L629.5 54.5 L628.5 54.5 M637.5 53.5 L637.5 52.5 L636.5 52.5 L635.5 52.5 L634.5 52.5 L634.5 53.5 L635.5 54.5 L636.5 54.5 L637.5 54.5 L637.5 55.5 L637.5 56.5 L636.5 56.5 L635.5 56.5 L634.5 56.5 L634.5 55.5"><title>40s</title></path>
<path d="M704.5 91.5 L708.5 91.5 L706.5 94.5 L707.5 94.5 L708.5 94.5 L708.5 95.5 L709.5 96.5 L709.5 97.5 L708.5 98.5 L707.5 99.5 L706.5 99.5 L705.5 99.5 L704.5 99.5 L703.5 98.5 L703.5 97.5 M716.5 91.5 L712.5 91.5 L711.5 94.5 L712.5 94.5 L713.5 93.5 L714.5 93.5 L715.5 94.5 L716.5 95.5 L717.5 96.5 L717.5 97.5 L716.5 98.5 L715.5 99.5 L714.5 99.5 L713.5 99.5 L712.5 99.5 L711.5 98.5 L711.5 97.5 M721.5 87.5 L721.5 90.5 M725.5 91.5 L730.5 91.5 L727.5 94.5 L729.5 94.5 L730.5 95.5 L730.5 96.5 L730.5 97.5 L730.5 98.5 L729.5 99.5 L728.5 99.5 L727.5 99.5 L725.5 99.5 L725.5 98.5 L725.5 97.5 M735.5 91.5 L734.5 91.5 L733.5 92.5 L733.5 94.5 L733.5 95.5 L733.5 97.5 L734.5 99.5 L735.5 99.5 L736.5 99.5 L737.5 99.5 L738.5 97.5 L738.5 95.5 L738.5 94.5 L738.5 92.5 L737.5 91.5 L736.5 91.5 L735.5 91.5 M743.5 87.5 L743.5 90.5 M745.5 87.5 L745.5 90.5"><title>35'30"</title></path>
<path d="M704.5 160.5 L708.5 160.5 L706.5 163.5 L707.5 163.5 L708.5 163.5 L708.5 164.5 L709.5 165.5 L709.5 166.5 L708.5 167.5 L707.5 168.5 L706.5 168.5 L705.5 168.5 L704.5 168.5 L703.5 167.5 L703.5 166.5 M716.5 161.5 L716.5 160.5 L715.5 160.5 L714.5 160.5 L713.5 160.5 L712.5 161.5 L711.5 163.5 L711.5 165.5 L712.5 167.5 L713.5 168.5 L714.5 168.5 L715.5 168.5 L716.5 167.5 L717.5 166.5 L717.5 165.5 L716.5 164.5 L715.5 163.5 L714.5 163.5 L713.5 163.5 L712.5 164.5 L711.5 165.5 M721.5 156.5 L721.5 159.5 M727.5 160.5 L726.5 160.5 L725.5 161.5 L725.5 163.5 L725.5 164.5 L725.5 166.5 L726.5 168.5 L727.5 168.5 L728.5 168.5 L729.5 168.5 L730.5 166.5 L730.5 164.5 L730.5 163.5 L730.5 161.5 L729.5 160.5 L728.5 160.5 L727.5 160.5 M735.5 160.5 L734.5 160.5 L733.5 161.5 L733.5 163.5 L733.5 164.5 L733.5 166.5 L734.5 168.5 L735.5 168.5 L736.5 168.5 L737.5 168.5 L738.5 166.5 L738.5 164.5 L738.5 163.5 L738.5 161.5 L737.5 160.5 L736.5 160.5 L735.5 160.5 M743.5 156.5 L743.5 159.5 M745.5 156.5 L745.5 159.5"><title>36'00"</title></path>
<path d="M704.5 229.5 L708.5 229.5 L706.5 232.5 L707.5 232.5 L708.5 232.5 L708.5 233.5 L709.5 234.5 L709.5 235.5 L708.5 236.5 L707.5 237.5 L706.5 237.5 L705.5 237.5 L704.5 237.5 L703.5 236.5 L703.5 235.5 M713.5 229.5 L712.5 229.5 L711.5 230.5 L711.5 232.5 L711.5 233.5 L711.5 235.5 L712.5 237.5 L713.5 237.5 L714.5 237.5 L715.5 237.5 L716.5 235.5 L717.5 233.5 L717.5 232.5 L716.5 230.5 L715.5 229.5 L714.5 229.5 L713.5 229.5 M721.5 225.5 L721.5 228.5 M724.5 225.5 L724.5 228.5"><title>30"</title></path>
<path d="M703.5 302.5 L710.5 302.5 M713.5 300.5 L713.5 299.5 L714.5 298.5 L715.5 298.5 L717.5 298.5 L718.5 298.5 L718.5 299.5 L718.5 300.5 L718.5 301.5 L717.5 302.5 L713.5 306.5 L719.5 306.5 M723.5 295.5 L722.5 296.5 L721.5 297.5 L721.5 298.5 L722.5 299.5 L723.5 300.5 L724.5 300.5 L724.5 299.5 L725.5 299.5 L725.5 298.5 L725.5 297.5 L725.5 296.5 L724.5 296.5 L724.5 295.5 L723.5 295.5 M729.5 298.5 L733.5 298.5 L731.5 301.5 L732.5 301.5 L733.5 301.5 L733.5 302.5 L734.5 303.5 L734.5 304.5 L733.5 305.5 L732.5 306.5 L731.5 306.5 L730.5 306.5 L729.5 306.5 L728.5 305.5 L728.5 304.5 M742.5 298.5 L738.5 306.5 M736.5 298.5 L742.5 298.5 M746.5 294.5 L746.5 297.5 M752.5 298.5 L751.5 298.5 L750.5 299.5 L750.5 301.5 L750.5 302.5 L750.5 304.5 L751.5 306.5 L752.5 306.5 L753.5 306.5 L754.5 306.5 L755.5 304.5 L755.5 302.5 L755.5 301.5 L755.5 299.5 L754.5 298.5 L753.5 298.5 L752.5 298.5 M760.5 298.5 L759.5 298.5 L758.5 299.5 L758.5 301.5 L758.5 302.5 L758.5 304.5 L759.5 306.5 L760.5 306.5 L761.5 306.5 L762.5 306.5 L763.5 304.5 L763.5 302.5 L763.5 301.5 L763.5 299.5 L762.5 298.5 L761.5 298.5 L760.5 298.5 M768.5 294.5 L768.5 297.5 M770.5 294.5 L770.5 297.5"><title>-2°37'00"</title></path>
<path d="M704.5 367.5 L708.5 367.5 L706.5 370.5 L707.5 370.5 L708.5 370.5 L708.5 371.5 L709.5 372.5 L709.5 373.5 L708.5 374.5 L707.5 375.5 L706.5 375.5 L705.5 375.5 L704.5 375.5 L703.5 374.5 L703.5 373.5 M713.5 367.5 L712.5 367.5 L711.5 368.5 L711.5 370.5 L711.5 371.5 L711.5 373.5 L712.5 375.5 L713.5 375.5 L714.5 375.5 L715.5 375.5 L716.5 373.5 L717.5 371.5 L717.5 370.5 L716.5 368.5 L715.5 367.5 L714.5 367.5 L713.5 367.5 M721.5 363.5 L721.5 366.5 M724.5 363.5 L724.5 366.5"><title>30"</title></path>
<path d="M704.5 437.5 L708.5 437.5 L706.5 440.5 L707.5 440.5 L708.5 440.5 L708.5 441.5 L709.5 442.5 L709.5 443.5 L708.5 444.5 L707.5 445.5 L706.5 445.5 L705.5 445.5 L704.5 445.5 L703.5 444.5 L703.5 443.5 M713.5 437.5 L712.5 437.5 L711.5 438.5 L711.5 439.5 L712.5 439.5 L713.5 440.5 L714.5 440.5 L715.5 441.5 L716.5 441.5 L717.5 442.5 L717.5 443.5 L716.5 444.5 L716.5 445.5 L715.5 445.5 L713.5 445.5 L712.5 445.5 L711.5 444.5 L711.5 443.5 L711.5 442.5 L711.5 441.5 L712.5 441.5 L713.5 440.5 L715.5 440.5 L716.5 439.5 L716.5 438.5 L716.5 437.5 L715.5 437.5 L713.5 437.5 M721.5 433.5 L721.5 436.5 M727.5 437.5 L726.5 437.5 L725.5 438.5 L725.5 440.5 L725.5 441.5 L725.5 443.5 L726.5 445.5 L727.5 445.5 L728.5 445.5 L729.5 445.5 L730.5 443.5 L730.5 441.5 L730.5 440.5 L730.5 438.5 L729.5 437.5 L728.5 437.5 L727.5 437.5 M735.5 437.5 L734.5 437.5 L733.5 438.5 L733.5 440.5 L733.5 441.5 L733.5 443.5 L734.5 445.5 L735.5 445.5 L736.5 445.5 L737.5 445.5 L738.5 443.5 L738.5 441.5 L738.5 440.5 L738.5 438.5 L737.5 437.5 L736.5 437.5 L735.5 437.5 M743.5 433.5 L743.5 436.5 M745.5 433.5 L745.5 436.5"><title>38'00"</title></path>
<path d="M704.5 506.5 L708.5 506.5 L706.5 509.5 L707.5 509.5 L708.5 509.5 L708.5 510.5 L709.5 511.5 L709.5 512.5 L708.5 513.5 L707.5 514.5 L706.5 514.5 L705.5 514.5 L704.5 514.5 L703.5 513.5 L703.5 512.5 M713.5 506.5 L712.5 506.5 L711.5 507.5 L711.5 509.5 L711.5 510.5 L711.5 512.5 L712.5 514.5 L713.5 514.5 L714.5 514.5 L715.5 514.5 L716.5 512.5 L717.5 510.5 L717.5 509.5 L716.5 507.5 L715.5 506.5 L714.5 506.5 L713.5 506.5 M721.5 502.5 L721.5 505.5 M724.5 502.5 L724.5 505.5"><title>30"</title></path>
<path d="M704.5 575.5 L708.5 575.5 L706.5 578.5 L707.5 578.5 L708.5 578.5 L708.5 579.5 L709.5 580.5 L709.5 581.5 L708.5 582.5 L707.5 583.5 L706.5 583.5 L705.5 583.5 L704.5 583.5 L703.5 582.5 L703.5 581.5 M716.5 577.5 L716.5 579.5 L715.5 579.5 L714.5 580.5 L713.5 580.5 L712.5 579.5 L711.5 579.5 L711.5 577.5 L711.5 576.5 L712.5 575.5 L713.5 575.5 L714.5 575.5 L715.5 575.5 L716.5 576.5 L716.5 577.5 L716.5 579.5 L716.5 581.5 L715.5 583.5 L714.5 583.5 L713.5 583.5 L712.5 583.5 L711.5 582.5 M721.5 571.5 L721.5 574.5 M727.5 575.5 L726.5 575.5 L725.5 576.5 L725.5 578.5 L725.5 579.5 L725.5 581.5 L726.5 583.5 L727.5 583.5 L728.5 583.5 L729.5 583.5 L730.5 581.5 L730.5 579.5 L730.5 578.5 L730.5 576.5 L729.5 575.5 L728.5 575.5 L727.5 575.5 M735.5 575.5 L734.5 575.5 L733.5 576.5 L733.5 578.5 L733.5 579.5 L733.5 581.5 L734.5 583.5 L735.5 583.5 L736.5 583.5 L737.5 583.5 L738.5 581.5 L738.5 579.5 L738.5 578.5 L738.5 576.5 L737.5 575.5 L736.5 575.5 L735.5 575.5 M743.5 571.5 L743.5 574.5 M745.5 571.5 L745.5 574.5"><title>39'00"</title></path>
<path d="M84.5 644.5 L83.5 644.5 L81.5 646.5 L81.5 649.5 L81.5 651.5 L81.5 654.5 L83.5 656.5 L84.5 656.5 L86.5 656.5 L87.5 656.5 L89.5 654.5 L89.5 651.5 L89.5 649.5 L89.5 646.5 L87.5 644.5 L86.5 644.5 L84.5 644.5"><title>0</title></path>
<path d="M242.5 647.5 L242.5 646.5 L243.5 645.5 L244.5 644.5 L245.5 644.5 L247.5 644.5 L248.5 644.5 L249.5 645.5 L249.5 646.5 L249.5 647.5 L249.5 648.5 L248.5 650.5 L242.5 656.5 L250.5 656.5 M255.5 655.5 L254.5 656.5 L255.5 656.5 L255.5 655.5 M267.5 648.5 L267.5 650.5 L265.5 651.5 L264.5 651.5 L263.5 651.5 L261.5 651.5 L260.5 650.5 L260.5 648.5 L260.5 647.5 L260.5 645.5 L261.5 644.5 L263.5 644.5 L264.5 644.5 L265.5 644.5 L267.5 645.5 L267.5 648.5 L267.5 651.5 L267.5 654.5 L265.5 656.5 L264.5 656.5 L262.5 656.5 L261.5 656.5 L260.5 654.5"><title>2.9</title></path>
<path d="M416.5 646.5 L418.5 645.5 L419.5 644.5 L419.5 656.5 M427.5 647.5 L427.5 646.5 L428.5 645.5 L428.5 644.5 L429.5 644.5 L432.5 644.5 L433.5 644.5 L434.5 645.5 L434.5 646.5 L434.5 647.5 L434.5 648.5 L432.5 650.5 L426.5 656.5 L435.5 656.5"><title>12</title></path>
<path d="M585.5 647.5 L585.5 646.5 L586.5 645.5 L586.5 644.5 L587.5 644.5 L590.5 644.5 L591.5 644.5 L591.5 645.5 L592.5 646.5 L592.5 647.5 L591.5 648.5 L590.5 650.5 L584.5 656.5 L593.5 656.5 M604.5 645.5 L603.5 644.5 L601.5 644.5 L600.5 644.5 L599.5 644.5 L597.5 646.5 L597.5 649.5 L597.5 652.5 L597.5 654.5 L599.5 656.5 L600.5 656.5 L601.5 656.5 L603.5 656.5 L604.5 654.5 L604.5 653.5 L604.5 652.5 L604.5 650.5 L603.5 649.5 L601.5 648.5 L600.5 648.5 L599.5 649.5 L597.5 650.5 L597.5 652.5"><title>26</title></path>
<path d="M750.5 644.5 L744.5 652.5 L753.5 652.5 M750.5 644.5 L750.5 656.5 M763.5 645.5 L763.5 644.5 L761.5 644.5 L760.5 644.5 L758.5 644.5 L757.5 646.5 L756.5 649.5 L756.5 652.5 L757.5 654.5 L758.5 656.5 L760.5 656.5 L762.5 656.5 L763.5 654.5 L764.5 653.5 L764.5 652.5 L763.5 650.5 L762.5 649.5 L760.5 648.5 L758.5 649.5 L757.5 650.5 L756.5 652.5"><title>46</title></path>
<path d="M361.5 267.5 L361.5 285.5 M368.5 273.5 L368.5 285.5 M368.5 276.5 L370.5 273.5 L372.5 273.5 L374.5 273.5 L376.5 273.5 L377.5 276.5 L377.5 285.5 M384.5 273.5 L384.5 290.5 M384.5 275.5 L385.5 273.5 L387.5 273.5 L390.5 273.5 L391.5 273.5 L393.5 275.5 L394.5 278.5 L394.5 279.5 L393.5 282.5 L391.5 284.5 L390.5 285.5 L387.5 285.5 L385.5 284.5 L384.5 282.5 M400.5 273.5 L400.5 281.5 L401.5 284.5 L402.5 285.5 L405.5 285.5 L407.5 284.5 L409.5 281.5 M409.5 273.5 L409.5 285.5 M417.5 267.5 L417.5 281.5 L418.5 284.5 L420.5 285.5 L421.5 285.5 M414.5 273.5 L420.5 273.5 M424.5 286.5 L437.5 286.5 M442.5 273.5 L442.5 290.5 M442.5 275.5 L443.5 273.5 L445.5 273.5 L448.5 273.5 L449.5 273.5 L451.5 275.5 L452.5 278.5 L452.5 279.5 L451.5 282.5 L449.5 284.5 L448.5 285.5 L445.5 285.5 L443.5 284.5 L442.5 282.5 M461.5 273.5 L460.5 273.5 L458.5 275.5 L457.5 278.5 L457.5 279.5 L458.5 282.5 L460.5 284.5 L461.5 285.5 L464.5 285.5 L466.5 284.5 L467.5 282.5 L468.5 279.5 L468.5 278.5 L467.5 275.5 L466.5 273.5 L464.5 273.5 L461.5 273.5 M483.5 275.5 L482.5 273.5 L479.5 273.5 L477.5 273.5 L474.5 273.5 L473.5 275.5 L474.5 277.5 L476.5 278.5 L480.5 279.5 L482.5 279.5 L483.5 281.5 L483.5 282.5 L482.5 284.5 L479.5 285.5 L477.5 285.5 L474.5 284.5 L473.5 282.5"><title>Input_pos</title></path>
</g>
</svg>
</body>
</html>
